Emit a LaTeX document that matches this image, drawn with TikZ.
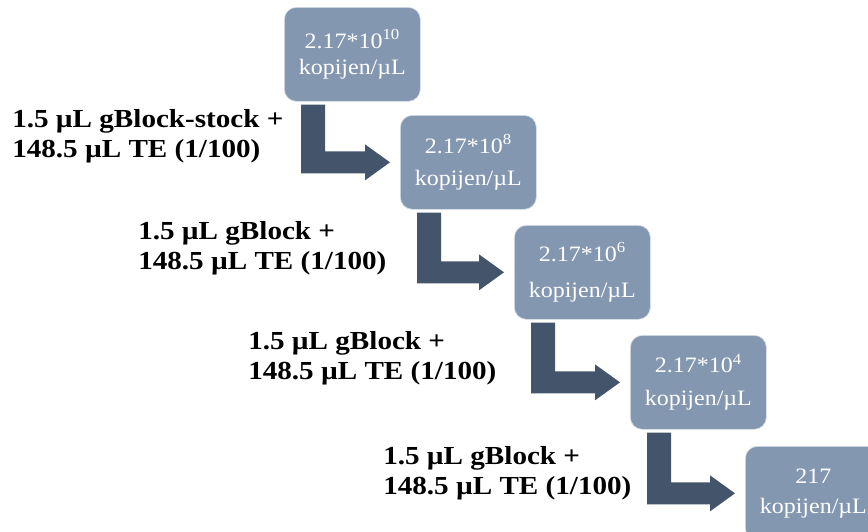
\documentclass[tikz,border=0pt]{standalone}
\usepackage{fontspec}
\setmainfont{Liberation Serif}
\newfontfamily\boxfont[FakeStretch=1.09]{Liberation Serif}
\newfontfamily\labelfont[FakeStretch=1.12]{Liberation Serif}
\usetikzlibrary{calc}

\definecolor{boxblue}{HTML}{8497B0}
\definecolor{arrowslate}{HTML}{44546A}

\tikzset{
  conc/.style={rectangle, rounded corners=9pt, fill=boxblue, draw=white!70!boxblue,
    line width=0.5pt, minimum width=102pt, minimum height=70.5pt, inner sep=0pt,
    anchor=north west, text=white, align=center,
    font=\boxfont\fontsize{16.5}{24}\selectfont},
  steplabel/.style={anchor=base west, inner sep=0pt,
    font=\labelfont\bfseries\fontsize{19.5}{22.5}\selectfont},
  arrowbody/.style={fill=arrowslate},
}

% bent arrow from the bottom of one box into the left side of the next
\newcommand\dilutionarrow[2]{%
  \coordinate (#1-#2-s) at ($(#1.south west)+(17,3)$);
  \coordinate (#1-#2-t) at ($(#2.west)+(-10,0)$);
  \fill[arrowbody] (#1-#2-s) -- ++(24,0) |- ($(#1-#2-t)+(-25,-11)$) -- ++(0,-7)
    -- (#1-#2-t) -- ++(-25,18) -- ++(0,-7) -| (#1-#2-s) -- cycle;}

\newcommand\steptext[1]{\begin{tabular}[t]{@{}l@{}}#1 +\\148.5 µL TE (1/100)\end{tabular}}

\begin{document}
\begin{tikzpicture}[x=0.75pt, y=-0.75pt]
  \useasboundingbox (0,0) rectangle (868,532);
  \clip (0,0) rectangle (868,532);

  % concentration boxes
  \node[conc] (c1) at (284,7)   {2.17*10\textsuperscript{10}\\[-4.5pt]kopijen/µL};
  \node[conc] (c2) at (400,115) {2.17*10\textsuperscript{8}\\[0pt]kopijen/µL};
  \node[conc] (c3) at (514,225) {2.17*10\textsuperscript{6}\\[3pt]kopijen/µL};
  \node[conc] (c4) at (630,335) {2.17*10\textsuperscript{4}\\[0.75pt]kopijen/µL};
  \node[conc] (c5) at (745,446) {217\\[-1.5pt]kopijen/µL};

  % dilution steps
  \dilutionarrow{c1}{c2}
  \dilutionarrow{c2}{c3}
  \dilutionarrow{c3}{c4}
  \dilutionarrow{c4}{c5}

  \node[steplabel] (d1) at (12,127)  {\steptext{1.5 µL gBlock-stock}};
  \node[steplabel] (d2) at (138,239) {\steptext{1.5 µL gBlock}};
  \node[steplabel] (d3) at (248,349) {\steptext{1.5 µL gBlock}};
  \node[steplabel] (d4) at (383,464) {\steptext{1.5 µL gBlock}};
\end{tikzpicture}
\end{document}
